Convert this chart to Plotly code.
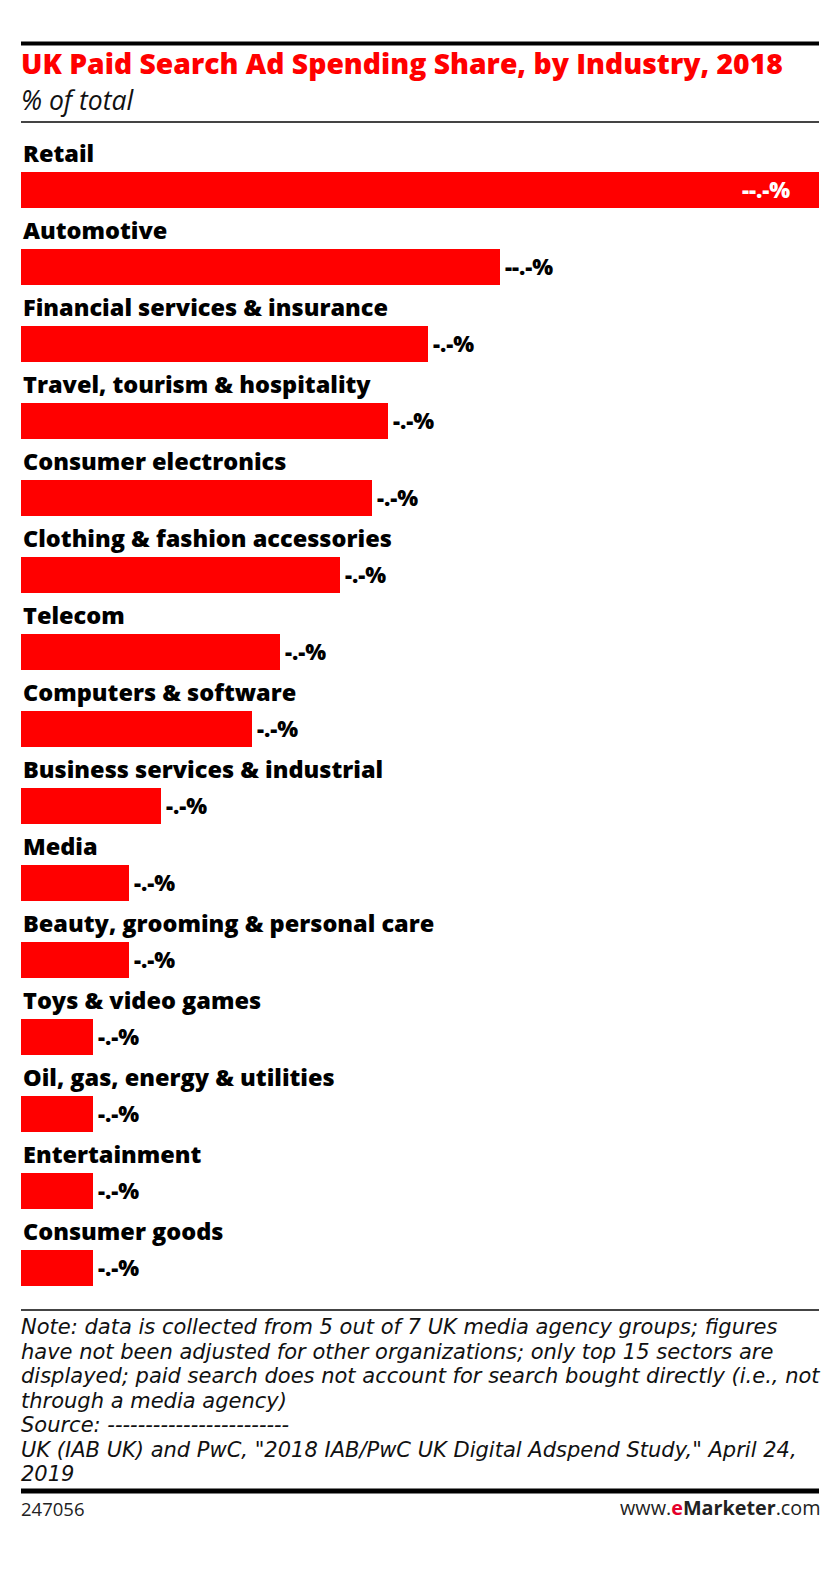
import plotly.graph_objects as go

# ---- data ----
categories = [
    "Retail", "Automotive", "Financial services & insurance",
    "Travel, tourism & hospitality", "Consumer electronics",
    "Clothing & fashion accessories", "Telecom", "Computers & software",
    "Business services & industrial", "Media",
    "Beauty, grooming & personal care", "Toys & video games",
    "Oil, gas, energy & utilities", "Entertainment", "Consumer goods",
]
values = [20.0, 12.0, 10.2, 9.2, 8.8, 8.0, 6.5, 5.8, 3.5, 2.7, 2.7, 1.8, 1.8, 1.8, 1.8]
value_labels = ["--.-%", "--.-%"] + ["-.-%"] * 13

title = "UK Paid Search Ad Spending Share, by Industry, 2018"
subtitle = "% of total"
note_lines = [
    "Note: data is collected from 5 out of 7 UK media agency groups; figures",
    "have not been adjusted for other organizations; only top 15 sectors are",
    "displayed; paid search does not account for search bought directly (i.e., not",
    "through a media agency)",
    "Source: ------------------------",
    "UK (IAB UK) and PwC, \"2018 IAB/PwC UK Digital Adspend Study,\" April 24,",
    "2019",
]
chart_id = "247056"

W, H = 840, 1590
LEFT, RIGHT = 21, 819
PITCH = 77
FIRST_CENTER = 189
n = len(categories)
top_px = FIRST_CENTER - PITCH / 2
bot_px = FIRST_CENTER + PITCH * (n - 1) + PITCH / 2

def py(y):
    return 1 - y / H

RED = "#ff0000"
BOLD = "Open Sans"
REG = "DejaVu Sans"

fig = go.Figure()
fig.add_trace(go.Bar(
    y=categories, x=values, orientation="h",
    marker=dict(color=RED, line=dict(width=0)),
    width=36 / PITCH, hoverinfo="skip",
))

annotations = []
for c in categories:
    annotations.append(dict(
        x=LEFT / W, xref="paper", y=c, yref="y", text=c,
        showarrow=False, xanchor="left", yanchor="bottom", yshift=18.5,
        font=dict(family=BOLD, size=23.5, color="#000", weight=800),
    ))
for i, (c, v, t) in enumerate(zip(categories, values, value_labels)):
    if i == 0:
        annotations.append(dict(x=v, xref="x", y=c, yref="y", text=t,
                                showarrow=False, xanchor="right", xshift=-27,
                                font=dict(family=BOLD, size=22, color="#fff", weight=800)))
    else:
        annotations.append(dict(x=v, xref="x", y=c, yref="y", text=t,
                                showarrow=False, xanchor="left", xshift=3,
                                font=dict(family=BOLD, size=22, color="#000", weight=800)))

def text_at(txt, x, baseline, size, family, color, xanchor="left", italic=False, weight=400):
    d = 0.26 * size + 1
    annotations.append(dict(x=x / W, xref="paper", y=py(baseline + d), yref="paper",
                            text=txt, showarrow=False, xanchor=xanchor, yanchor="bottom",
                            borderpad=0,
                            font=dict(family=family, size=size, color=color, weight=weight,
                                      style="italic" if italic else "normal")))

text_at(title, LEFT - 1, 75, 28.3, BOLD, RED, weight=800)
text_at(subtitle, LEFT - 1, 111, 26.5, "Open Sans", "#111", italic=True)
for k, line in enumerate(note_lines):
    text_at(line, LEFT - 1, 1334 + 24.5 * k, 21, REG, "#111", italic=True)
text_at(chart_id, LEFT - 1, 1516, 18.5, "Open Sans", "#222")
text_at("www.<span style='color:#e4002b'><b>e</b></span><b>Marketer</b>.com",
        RIGHT + 3, 1516, 19.8, "Open Sans", "#222", xanchor="right")

shapes = [
    dict(type="line", xref="paper", yref="paper", x0=LEFT / W, x1=RIGHT / W,
         y0=py(43.5), y1=py(43.5), line=dict(color="#000", width=4)),
    dict(type="line", xref="paper", yref="paper", x0=LEFT / W, x1=RIGHT / W,
         y0=py(122), y1=py(122), line=dict(color="#444", width=2)),
    dict(type="line", xref="paper", yref="paper", x0=LEFT / W, x1=RIGHT / W,
         y0=py(1310), y1=py(1310), line=dict(color="#444", width=2)),
    dict(type="line", xref="paper", yref="paper", x0=LEFT / W, x1=RIGHT / W,
         y0=py(1491), y1=py(1491), line=dict(color="#000", width=5)),
]

fig.update_layout(
    width=W, height=H, margin=dict(l=0, r=0, t=0, b=0),
    paper_bgcolor="#fff", plot_bgcolor="rgba(0,0,0,0)",
    showlegend=False, bargap=0,
    xaxis=dict(domain=[LEFT / W, RIGHT / W], range=[0, max(values)],
               visible=False, fixedrange=True),
    yaxis=dict(domain=[py(bot_px), py(top_px)], range=[n - 0.5, -0.5],
               type="category", categoryorder="array", categoryarray=categories,
               visible=False, fixedrange=True),
    annotations=annotations, shapes=shapes,
)
fig.write_html("out.html", config={"displayModeBar": False},
               post_script="document.body.style.margin='0px';")
